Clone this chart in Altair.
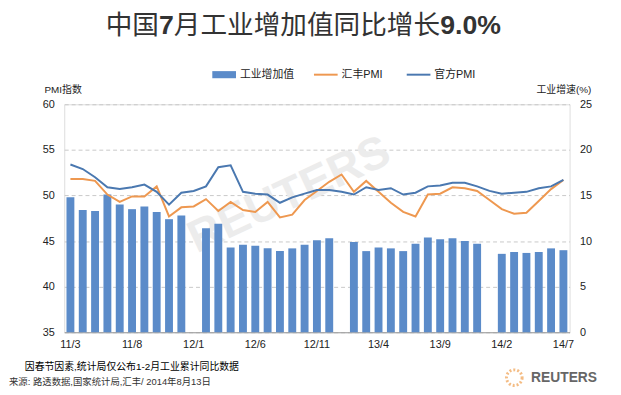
import altair as alt
import pandas as pd

# ---------------- data ----------------
months = ["11/3", "11/4", "11/5", "11/6", "11/7", "11/8", "11/9", "11/10", "11/11", "11/12",
          "12/1", "12/2", "12/3", "12/4", "12/5", "12/6", "12/7", "12/8", "12/9", "12/10", "12/11", "12/12",
          "13/1", "13/2", "13/3", "13/4", "13/5", "13/6", "13/7", "13/8", "13/9", "13/10", "13/11", "13/12",
          "14/1", "14/2", "14/3", "14/4", "14/5", "14/6", "14/7"]
tick_labels = ["11/3", "11/8", "12/1", "12/6", "12/11", "13/4", "13/9", "14/2", "14/7"]

# industrial output growth, % y/y (Jan not published separately -> None)
industrial = [14.8, 13.4, 13.3, 15.1, 14.0, 13.5, 13.8, 13.2, 12.4, 12.8,
              None, 11.4, 11.9, 9.3, 9.6, 9.5, 9.2, 8.9, 9.2, 9.6, 10.1, 10.3,
              None, 9.9, 8.9, 9.3, 9.2, 8.9, 9.7, 10.4, 10.2, 10.3, 10.0, 9.7,
              None, 8.6, 8.8, 8.7, 8.8, 9.2, 9.0]
# HSBC PMI
hsbc_pmi = [51.8, 51.8, 51.6, 50.1, 49.3, 49.9, 49.9, 51.0, 47.7, 48.7,
            48.8, 49.6, 48.3, 49.3, 48.4, 48.2, 49.3, 47.6, 47.9, 49.5, 50.5, 51.5,
            52.3, 50.4, 51.6, 50.4, 49.2, 48.2, 47.7, 50.1, 50.2, 50.9, 50.8, 50.5,
            49.5, 48.5, 48.0, 48.1, 49.4, 50.7, 51.7]
# official PMI
official_pmi = [53.4, 52.9, 52.0, 50.9, 50.7, 50.9, 51.2, 50.4, 49.0, 50.3,
                50.5, 51.0, 53.1, 53.3, 50.4, 50.2, 50.1, 49.2, 49.8, 50.2, 50.6, 50.6,
                50.4, 50.1, 50.9, 50.6, 50.8, 50.1, 50.3, 51.0, 51.1, 51.4, 51.4, 51.0,
                50.5, 50.2, 50.3, 50.4, 50.8, 51.0, 51.7]

bar_name = "工业增加值"
line_names = ["汇丰PMI", "官方PMI"]

title_parts = ["中国", "7", "月工业增加值同比增长", "9.0%"]
left_title = "PMI指数"
right_title = "工业增速(%)"
note_text = "因春节因素,统计局仅公布1-2月工业累计同比数据"
source_text = "来源: 路透数据,国家统计局,汇丰/  2014年8月13日"

# ---------------- styling ----------------
FONT = "Liberation Sans, Noto Sans CJK SC"
BAR = "#5B8BC9"
ORANGE = "#EE9850"
BLUE = "#4A78B0"

df = pd.DataFrame({"month": months, "industrial": industrial,
                   "汇丰PMI": hsbc_pmi, "官方PMI": official_pmi})

xenc = alt.X("month:O", sort=months,
             scale=alt.Scale(domain=months, paddingInner=0.36, paddingOuter=0.18),
             axis=alt.Axis(values=tick_labels, labelAngle=0, ticks=False, domain=True,
                           domainColor="#999999", labelPadding=6, labelFontSize=11,
                           labelFont=FONT, labelColor="#222222", title=None, grid=False))

bars = alt.Chart(df).transform_calculate(series="'" + bar_name + "'").mark_bar(
).encode(
    x=xenc,
    y=alt.Y("industrial:Q", scale=alt.Scale(domain=[0, 25], nice=False),
            axis=alt.Axis(orient="right", values=[0, 5, 10, 15, 20, 25], domain=False,
                          ticks=False, grid=False, labelPadding=10, labelFontSize=11,
                          labelFont=FONT, labelColor="#222222", title=None)),
    color=alt.Color("series:N", scale=alt.Scale(domain=[bar_name], range=[BAR]),
                    legend=alt.Legend(orient="none", legendX=149, legendY=-43,
                                      direction="horizontal", title=None,
                                      symbolType="M-1,-0.3H1V0.3H-1Z", symbolSize=576,
                                      labelFont=FONT, labelFontSize=11,
                                      labelColor="#222222", labelOffset=3)),
)

lines = alt.Chart(df).transform_fold(line_names, as_=["series", "value"]).mark_line(
    strokeWidth=2
).encode(
    x=xenc,
    y=alt.Y("value:Q", scale=alt.Scale(domain=[35, 60], nice=False, zero=False),
            axis=alt.Axis(orient="left", values=[35, 40, 45, 50, 55, 60], domain=False,
                          ticks=False, grid=True, gridDash=[4, 3], gridColor="#c8c8c8",
                          labelPadding=10, labelFontSize=11, labelFont=FONT,
                          labelColor="#222222", title=None)),
    color=alt.Color("series:N", sort=line_names,
                    scale=alt.Scale(domain=line_names, range=[ORANGE, BLUE]),
                    legend=alt.Legend(orient="none", legendX=252, legendY=-43,
                                      direction="horizontal", title=None,
                                      symbolType="stroke", symbolSize=576,
                                      symbolStrokeWidth=2, columnPadding=20,
                                      labelFont=FONT, labelFontSize=11,
                                      labelColor="#222222", labelOffset=3)),
    order=alt.Order("series:N", sort="descending"),
)


def text_layer(txt, x, y, size, color="#222222", align="left", baseline="middle",
               weight="normal", angle=0, font=FONT):
    kw = dict(font=font, fontSize=size, color=color, align=align, baseline=baseline,
              fontWeight=weight)
    if angle:
        kw["angle"] = angle
    return alt.Chart(pd.DataFrame({"t": [txt]})).mark_text(**kw).encode(
        x=alt.value(x), y=alt.value(y), text="t:N")


watermark = text_layer("REUTERS", 228, 92, 46, color="#ececec", align="center",
                       weight="bold", angle=335)

TY = -71.5
title_layers = [
    text_layer(title_parts[0], 42, TY, 27, color="#333333", baseline="alphabetic"),
    text_layer(title_parts[1], 96, TY, 27, color="#333333", baseline="alphabetic", weight="bold"),
    text_layer(title_parts[2], 111, TY, 27, color="#333333", baseline="alphabetic"),
    text_layer(title_parts[3], 381, TY, 27, color="#333333", baseline="alphabetic", weight="bold"),
]

others = [
    text_layer(left_title, -20, -14, 10),
    text_layer(right_title, 534, -14, 10, align="right"),
    text_layer(note_text, -40, 266, 10, color="#000000"),
    text_layer(source_text, -56, 281, 9.5, color="#333333"),
    text_layer("REUTERS", 473, 277, 14, color="#666666", weight="bold"),
]

logo = alt.Chart(pd.DataFrame({"t": ["logo"]})).mark_point(
    shape="circle", filled=False, color="#F0A050", strokeWidth=3, size=250,
    strokeDash=[2, 2]
).encode(x=alt.value(456), y=alt.value(277))

chart = alt.layer(watermark, bars, lines, *title_layers, *others, logo).resolve_scale(
    y="independent", color="independent"
).resolve_legend(color="independent").properties(
    width=512, height=231,
    autosize=alt.AutoSizeParams(type="none"),
    padding={"left": 57, "top": 95, "right": 44, "bottom": 61},
).configure_view(stroke=None).configure(background="white")

chart.save("out.html", embed_options={"renderer": "svg", "actions": False})
